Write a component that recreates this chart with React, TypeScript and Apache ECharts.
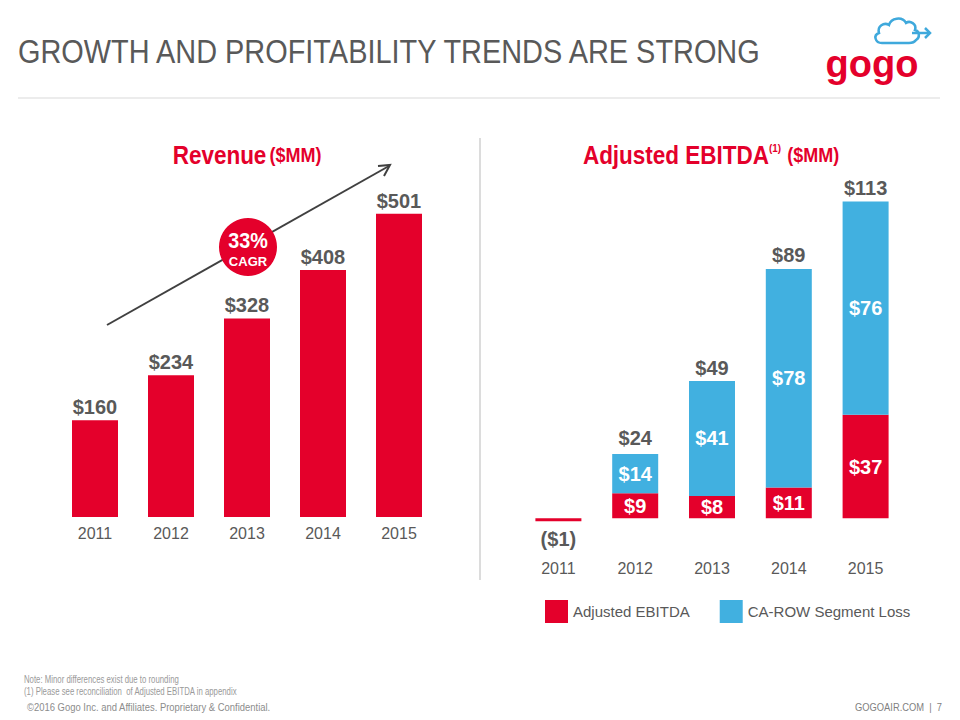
import React, { useEffect, useRef } from "react";
import * as echarts from "echarts";

const years = ["2011", "2012", "2013", "2014", "2015"];
const revenue = [160, 234, 328, 408, 501];
const adjEbitda = [-1, 9, 8, 11, 37];
const caRowLoss = [null, 14, 41, 78, 76];
const ebitdaTotals = [null, 24, 49, 89, 113];

const RED = "#E4002B";
const BLUE = "#41B0E0";
const GRAY = "#595959";
const ARIAL = "'Liberation Sans', Arial, sans-serif";

echarts.graphic.registerShape(
  "cloud",
  echarts.graphic.extendPath(
    "M10 27 C3 27 1 19 7 17 C5 10 12 6 17 9 C19 2 30 0 34 7 C38 4 45 8 43 14 C48 15 48 22 44 24 C42 27 40 27 37 27 Z",
    {}
  )
);

const money = (v: number) => (v < 0 ? `($${-v})` : `$${v}`);

export default function App() {
  const ref = useRef<HTMLDivElement>(null);
  useEffect(() => {
    if (!ref.current) return;
    const chart = echarts.init(ref.current, null, { renderer: "svg" });
    const labelBold = { fontFamily: ARIAL, fontWeight: "bold" as const, fontSize: 20 };
    chart.setOption({
      animation: false,
      backgroundColor: "#ffffff",
      grid: [
        { left: 57, top: 184, width: 380, height: 333 },
        { left: 520, top: 182, width: 384, height: 370 },
      ],
      xAxis: [0, 1].map((i) => ({
        type: "category",
        gridIndex: i,
        data: years,
        axisLine: { show: false, onZero: false },
        axisTick: { show: false },
        splitLine: { show: false },
        axisLabel: { color: GRAY, fontSize: 16, fontFamily: ARIAL, margin: 8 },
      })),
      yAxis: [
        { type: "value", gridIndex: 0, min: 0, max: 550, show: false },
        { type: "value", gridIndex: 1, min: -12, max: 120, show: false },
      ],
      legend: {
        data: ["Adjusted EBITDA", "CA-ROW Segment Loss"],
        left: 545,
        top: 600,
        width: 410,
        padding: 0,
        icon: "rect",
        itemWidth: 23,
        itemHeight: 23,
        itemGap: 30,
        selectedMode: false,
        textStyle: { color: GRAY, fontSize: 15, fontFamily: ARIAL },
      },
      series: [
        {
          name: "Revenue",
          type: "bar",
          xAxisIndex: 0,
          yAxisIndex: 0,
          barWidth: 46,
          data: revenue,
          itemStyle: { color: RED },
          label: {
            show: true,
            position: "top",
            distance: 3,
            color: GRAY,
            ...labelBold,
            formatter: (p: any) => money(p.value),
          },
        },
        {
          name: "Adjusted EBITDA",
          type: "bar",
          stack: "ebitda",
          xAxisIndex: 1,
          yAxisIndex: 1,
          barWidth: 46,
          itemStyle: { color: RED },
          data: adjEbitda.map((v) =>
            v < 0
              ? { value: v, label: { position: "bottom", distance: 8, color: GRAY } }
              : v
          ),
          label: {
            show: true,
            position: "inside",
            color: "#ffffff",
            ...labelBold,
            formatter: (p: any) => money(p.value),
          },
        },
        {
          name: "CA-ROW Segment Loss",
          type: "bar",
          stack: "ebitda",
          xAxisIndex: 1,
          yAxisIndex: 1,
          barWidth: 46,
          itemStyle: { color: BLUE },
          data: caRowLoss,
          label: {
            show: true,
            position: "inside",
            color: "#ffffff",
            ...labelBold,
            formatter: (p: any) => money(p.value),
          },
        },
        {
          name: "Total",
          type: "scatter",
          xAxisIndex: 1,
          yAxisIndex: 1,
          symbolSize: 1,
          itemStyle: { color: "rgba(0,0,0,0)", opacity: 1 },
          data: ebitdaTotals,
          label: {
            show: true,
            position: "top",
            distance: 3,
            color: GRAY,
            opacity: 1,
            ...labelBold,
            formatter: (p: any) => money(p.value),
          },
          silent: true,
        },
      ],
      graphic: [
        {
          type: "text",
          x: 18,
          y: 51,
          scaleX: 0.85,
          style: {
            text: "GROWTH AND PROFITABILITY TRENDS ARE STRONG",
            fill: GRAY,
            font: `34px ${ARIAL}`,
            align: "left",
            verticalAlign: "middle",
          },
        },
        { type: "line", shape: { x1: 18, y1: 98, x2: 940, y2: 98 }, style: { stroke: "#d9d9d9", lineWidth: 1 } },
        { type: "line", shape: { x1: 480, y1: 138, x2: 480, y2: 580 }, style: { stroke: "#d0d0d0", lineWidth: 1.5 } },
        {
          type: "text",
          x: 247,
          y: 155,
          scaleX: 0.9,
          style: {
            text: "{a|Revenue} {b|($MM)}",
            align: "center",
            verticalAlign: "middle",
            rich: {
              a: { fontFamily: ARIAL, fontWeight: "bold", fontSize: 25, fill: RED, color: RED },
              b: { fontFamily: ARIAL, fontWeight: "bold", fontSize: 20, fill: RED, color: RED },
            },
          },
        },
        {
          type: "text",
          x: 711,
          y: 155,
          scaleX: 0.9,
          style: {
            text: "{a|Adjusted EBITDA}{s|(1)}  {b|($MM)}",
            align: "center",
            verticalAlign: "middle",
            rich: {
              a: { fontFamily: ARIAL, fontWeight: "bold", fontSize: 25, fill: RED, color: RED },
              s: { fontFamily: ARIAL, fontWeight: "bold", fontSize: 11, fill: RED, color: RED, verticalAlign: "top", padding: [0, 0, 12, 0] },
              b: { fontFamily: ARIAL, fontWeight: "bold", fontSize: 20, fill: RED, color: RED },
            },
          },
        },
        // CAGR arrow
        { type: "line", shape: { x1: 107, y1: 325, x2: 389, y2: 166 }, style: { stroke: "#404040", lineWidth: 2 } },
        {
          type: "polyline",
          shape: { points: [[378, 166], [390, 165], [384, 176]] },
          style: { stroke: "#404040", lineWidth: 2, fill: "none" },
        },
        { type: "circle", shape: { cx: 248, cy: 247, r: 29 }, style: { fill: RED } },
        {
          type: "text",
          x: 248,
          y: 240,
          scaleX: 0.9,
          style: { text: "33%", fill: "#ffffff", font: `bold 22px ${ARIAL}`, align: "center", verticalAlign: "middle" },
        },
        {
          type: "text",
          x: 248,
          y: 261,
          style: { text: "CAGR", fill: "#ffffff", font: `bold 13px ${ARIAL}`, align: "center", verticalAlign: "middle" },
        },
        // logo
        {
          type: "cloud",
          x: 872,
          y: 16,
          scaleX: 1,
          scaleY: 1,
          style: { fill: "none", stroke: "#3FA9DC", lineWidth: 2.5 },
        },
        { type: "line", shape: { x1: 912, y1: 33, x2: 930, y2: 33 }, style: { stroke: "#3FA9DC", lineWidth: 2.5 } },
        {
          type: "polyline",
          shape: { points: [[925, 28], [930, 33], [925, 38]] },
          style: { stroke: "#3FA9DC", lineWidth: 2.5, fill: "none" },
        },
        {
          type: "text",
          x: 872,
          y: 64,
          style: { text: "gogo", fill: RED, font: `bold 38px ${ARIAL}`, align: "center", verticalAlign: "middle" },
        },
        // footer
        {
          type: "text",
          x: 24,
          y: 680,
          scaleX: 0.78,
          style: { text: "Note: Minor differences exist due to rounding", fill: "#9a9a9a", font: `10px ${ARIAL}`, align: "left", verticalAlign: "middle" },
        },
        {
          type: "text",
          x: 24,
          y: 692,
          scaleX: 0.78,
          style: { text: "(1) Please see reconciliation  of Adjusted EBITDA in appendix", fill: "#9a9a9a", font: `10px ${ARIAL}`, align: "left", verticalAlign: "middle" },
        },
        {
          type: "text",
          x: 27,
          y: 707,
          scaleX: 0.86,
          style: { text: "©2016 Gogo Inc. and Affiliates. Proprietary & Confidential.", fill: "#8c8c8c", font: `11px ${ARIAL}`, align: "left", verticalAlign: "middle" },
        },
        {
          type: "text",
          x: 942,
          y: 707,
          scaleX: 0.85,
          style: { text: "GOGOAIR.COM  |  7", fill: "#7f7f7f", font: `11px ${ARIAL}`, align: "right", verticalAlign: "middle" },
        },
      ],
    });
    return () => chart.dispose();
  }, []);
  return (
    <div
      ref={ref}
      style={{ position: "fixed", left: 0, top: 0, width: 960, height: 720, background: "#fff" }}
    />
  );
}
